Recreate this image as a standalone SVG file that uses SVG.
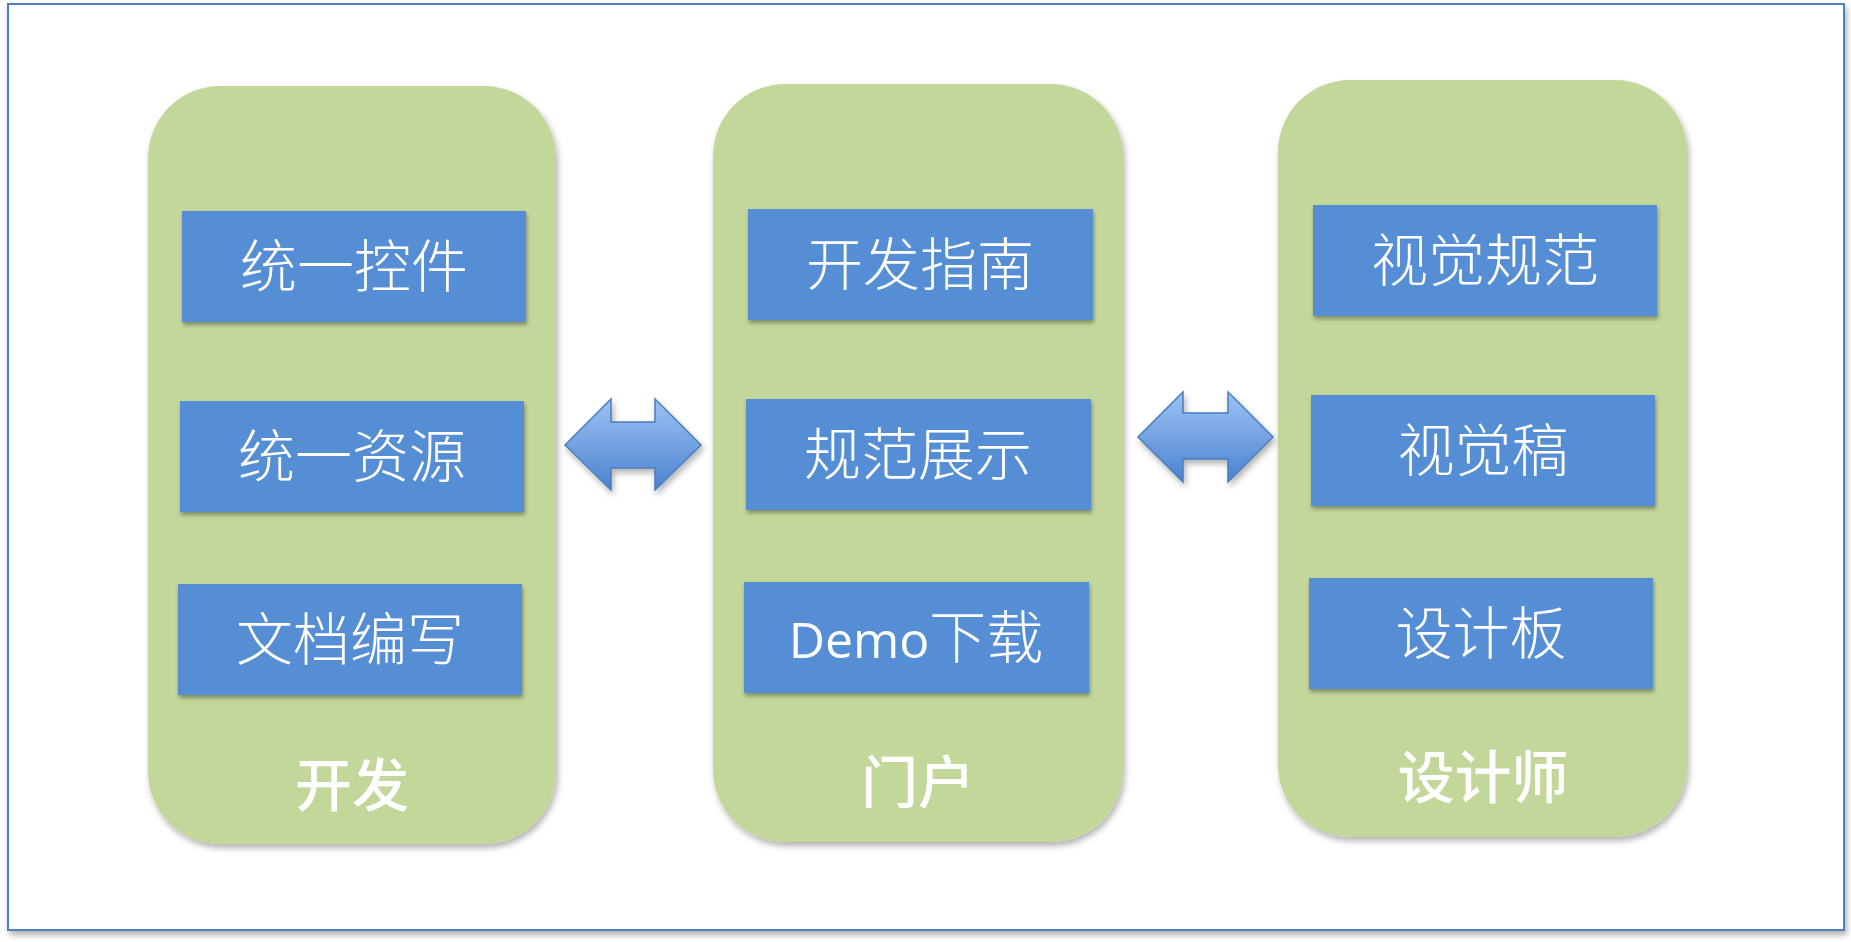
<svg xmlns="http://www.w3.org/2000/svg" width="1851" height="942" viewBox="0 0 1851 942">
<defs>
<style>
.panel{fill:#c4d79b;filter:url(#sh)}
.box{fill:#558ed5;filter:url(#sh2)}
.bt{font-family:"Noto Sans CJK SC","Liberation Sans",sans-serif;font-size:57px;fill:#ffffff;text-anchor:middle;font-weight:300}
.pt{font-family:"Noto Sans CJK SC","Liberation Sans",sans-serif;font-size:57px;fill:#ffffff;text-anchor:middle;font-weight:500}
.arr{fill:url(#ag);stroke:#4a7ebb;stroke-width:1.5;filter:url(#sh)}
</style>
<linearGradient id="ag" x1="0" y1="0" x2="0" y2="1">
<stop offset="0" stop-color="#9ec3f5"/>
<stop offset="1" stop-color="#4a82d0"/>
</linearGradient>
<filter id="sh" x="-10%" y="-10%" width="130%" height="130%">
<feDropShadow dx="2" dy="4" stdDeviation="3" flood-color="#000" flood-opacity="0.3"/>
</filter>
<filter id="sh2" x="-10%" y="-10%" width="130%" height="140%">
<feDropShadow dx="1" dy="3" stdDeviation="2" flood-color="#000" flood-opacity="0.35"/>
</filter>
</defs>
<rect x="0" y="0" width="1851" height="942" fill="#ffffff"/>
<rect id="frame" x="8" y="4" width="1836" height="926" fill="#ffffff" stroke="#4f81bd" stroke-width="2" filter="url(#sh)"/>

<g id="panel-dev">
<rect class="panel" x="148" y="86" width="408" height="758" rx="72" ry="72"/>
<text class="pt" x="352" y="806">开发</text>
</g>
<g id="panel-portal">
<rect class="panel" x="713" y="84" width="410" height="758" rx="72" ry="72"/>
<text class="pt" x="918" y="803">门户</text>
</g>
<g id="panel-designer">
<rect class="panel" x="1278" y="80" width="409" height="757" rx="72" ry="72"/>
<text class="pt" x="1483" y="798">设计师</text>
</g>

<g id="box-1"><rect class="box" x="182" y="211" width="344" height="111"/><text class="bt" x="354" y="287">统一控件</text></g>
<g id="box-2"><rect class="box" x="180" y="401" width="344" height="111"/><text class="bt" x="352" y="477">统一资源</text></g>
<g id="box-3"><rect class="box" x="178" y="584" width="344" height="111"/><text class="bt" x="350" y="660">文档编写</text></g>

<g id="box-4"><rect class="box" x="748" y="209" width="345" height="111"/><text class="bt" x="920" y="285">开发指南</text></g>
<g id="box-5"><rect class="box" x="746" y="399" width="345" height="111"/><text class="bt" x="918" y="475">规范展示</text></g>
<g id="box-6"><rect class="box" x="744" y="582" width="345" height="111"/><text class="bt" x="916" y="658"><tspan font-family="'Open Sans','Liberation Sans',sans-serif" font-size="50" font-weight="400">Demo</tspan>下载</text></g>

<g id="box-7"><rect class="box" x="1313" y="205" width="344" height="111"/><text class="bt" x="1485" y="281">视觉规范</text></g>
<g id="box-8"><rect class="box" x="1311" y="395" width="344" height="111"/><text class="bt" x="1483" y="471">视觉稿</text></g>
<g id="box-9"><rect class="box" x="1309" y="578" width="344" height="111"/><text class="bt" x="1481" y="654">设计板</text></g>

<g id="connectors">
<path class="arr" d="M565,445 L611,399 L611,422 L655,422 L655,399 L701,445 L655,490 L655,468 L611,468 L611,490 Z"/>
<path class="arr" d="M1138,437 L1183,392 L1183,413 L1228,413 L1228,392 L1273,437 L1228,482 L1228,459 L1183,459 L1183,482 Z"/>
</g>
</svg>
